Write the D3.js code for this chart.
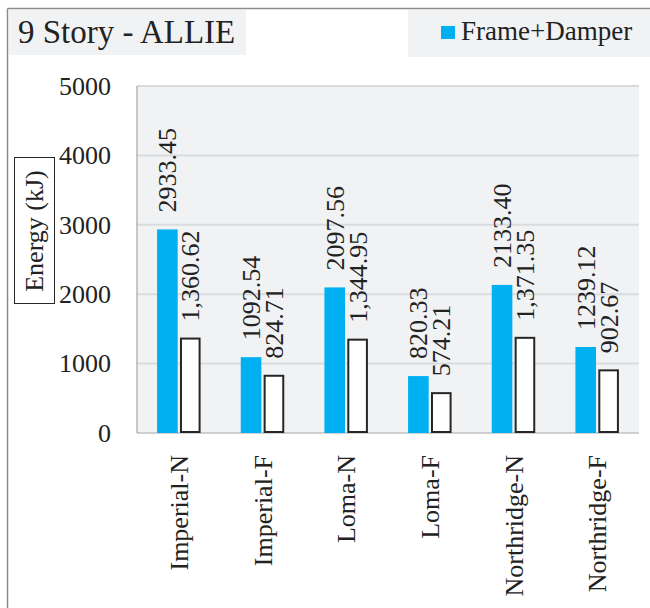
<!DOCTYPE html>
<html>
<head>
<meta charset="utf-8">
<script src="https://cdn.jsdelivr.net/npm/d3@7"></script>
<style>
  html, body { margin: 0; padding: 0; background: #ffffff; }
  svg { display: block; }
  text { font-family: "Liberation Serif", "Times New Roman", serif; fill: #222; }
</style>
</head>
<body>
<svg id="chart" width="650" height="608"></svg>
<script>
const categories = ["Imperial-N", "Imperial-F", "Loma-N", "Loma-F", "Northridge-N", "Northridge-F"];
const frameDamper = [2933.45, 1092.54, 2097.56, 820.33, 2133.40, 1239.12];
const frameOnly = [1360.62, 824.71, 1344.95, 574.21, 1371.35, 902.67];
const frameDamperLabels = ["2933.45", "1092.54", "2097.56", "820.33", "2133.40", "1239.12"];
const frameOnlyLabels = ["1,360.62", "824.71", "1,344.95", "574.21", "1,371.35", "902.67"];
const yTicks = [0, 1000, 2000, 3000, 4000, 5000];
const seriesNames = ["Frame+Damper", "Frame"];
const titleText = "9 Story - ALLIE";
const yTitle = "Energy (kJ)";

const svg = d3.select("#chart");
const plot = { left: 137, right: 639, top: 86, bottom: 433 };

// outer frame (top and left visible)
svg.append("line").attr("x1", 7.5).attr("x2", 650).attr("y1", 8.5).attr("y2", 8.5)
  .attr("stroke", "#8c8c8c").attr("stroke-width", 1.5);
svg.append("line").attr("x1", 7.5).attr("x2", 7.5).attr("y1", 8.5).attr("y2", 608)
  .attr("stroke", "#8c8c8c").attr("stroke-width", 1.5);

// title box
svg.append("rect").attr("x", 9).attr("y", 10).attr("width", 237).attr("height", 45).attr("fill", "#f1f2f4");
svg.append("text").attr("x", 18).attr("y", 43).attr("font-size", 33).text(titleText);

// legend box
svg.append("rect").attr("x", 408).attr("y", 10).attr("width", 242).attr("height", 47).attr("fill", "#f1f2f4");
svg.append("rect").attr("x", 441).attr("y", 26).attr("width", 14).attr("height", 13).attr("fill", "#00b0f0");
svg.append("text").attr("x", 461).attr("y", 40).attr("font-size", 27).text(seriesNames[0]);

// scales
const x = d3.scaleBand().domain(categories).range([plot.left, plot.right]).padding(0);
const bw = x.bandwidth();
const x1 = d3.scaleBand().domain(seriesNames).range([bw * 0.24, bw * 0.76]).paddingInner(0.1);
const y = d3.scaleLinear().domain([0, 5000]).range([plot.bottom, plot.top]);

// plot background
svg.append("rect").attr("x", plot.left).attr("y", plot.top)
  .attr("width", plot.right - plot.left).attr("height", plot.bottom - plot.top).attr("fill", "#f1f2f4");

// gridlines
svg.append("g").selectAll("line").data(yTicks.filter(d => d > 0)).join("line")
  .attr("x1", plot.left).attr("x2", plot.right)
  .attr("y1", d => y(d)).attr("y2", d => y(d))
  .attr("stroke", "#dadbdd").attr("stroke-width", 2);

// y axis labels
const yAxis = d3.axisLeft(y).tickValues(yTicks).tickSize(0).tickPadding(26).tickFormat(d3.format("d"));
const yg = svg.append("g").attr("transform", `translate(${plot.left},0)`).call(yAxis);
yg.select(".domain").remove();
yg.selectAll("text").attr("font-size", 26).attr("font-family", "Liberation Serif").attr("fill", "#222");

// axis lines
svg.append("line").attr("x1", plot.left).attr("x2", plot.left).attr("y1", plot.top).attr("y2", plot.bottom)
  .attr("stroke", "#a6a6a6").attr("stroke-width", 1.2);
svg.append("line").attr("x1", plot.left).attr("x2", plot.right).attr("y1", plot.bottom).attr("y2", plot.bottom)
  .attr("stroke", "#a6a6a6").attr("stroke-width", 1.2);

// bars
const groups = svg.append("g").selectAll("g").data(categories).join("g")
  .attr("transform", d => `translate(${x(d)},0)`);

groups.append("rect")
  .attr("x", x1(seriesNames[0]))
  .attr("width", x1.bandwidth())
  .attr("y", (d, i) => y(frameDamper[i]))
  .attr("height", (d, i) => y(0) - y(frameDamper[i]))
  .attr("fill", "#00b0f0");

groups.append("rect")
  .attr("x", x1(seriesNames[1]) + 1)
  .attr("width", x1.bandwidth() - 2)
  .attr("y", (d, i) => y(frameOnly[i]))
  .attr("height", (d, i) => y(0) - y(frameOnly[i]) - 1)
  .attr("fill", "#ffffff")
  .attr("stroke", "#262626")
  .attr("stroke-width", 2);

// value labels (rotated)
groups.append("text")
  .attr("transform", (d, i) => `translate(${x1(seriesNames[0]) + x1.bandwidth() / 2},${y(frameDamper[i]) - 17}) rotate(-90)`)
  .attr("dy", "0.35em")
  .attr("font-size", 26)
  .text((d, i) => frameDamperLabels[i]);

groups.append("text")
  .attr("transform", (d, i) => `translate(${x1(seriesNames[1]) + x1.bandwidth() / 2},${y(frameOnly[i]) - 17}) rotate(-90)`)
  .attr("dy", "0.35em")
  .attr("font-size", 26)
  .text((d, i) => frameOnlyLabels[i]);

// category labels
svg.append("g").selectAll("text").data(categories).join("text")
  .attr("transform", d => `translate(${x(d) + bw / 2},${plot.bottom + 22}) rotate(-90)`)
  .attr("dy", "0.35em")
  .attr("text-anchor", "end")
  .attr("font-size", 26)
  .text(d => d);

// y title with box
svg.append("rect").attr("x", 14.5).attr("y", 157.5).attr("width", 40).attr("height", 146)
  .attr("fill", "none").attr("stroke", "#262626").attr("stroke-width", 1);
svg.append("text")
  .attr("transform", "translate(34,231) rotate(-90)")
  .attr("dy", "0.35em")
  .attr("text-anchor", "middle")
  .attr("font-size", 26)
  .text(yTitle);
</script>
</body>
</html>
